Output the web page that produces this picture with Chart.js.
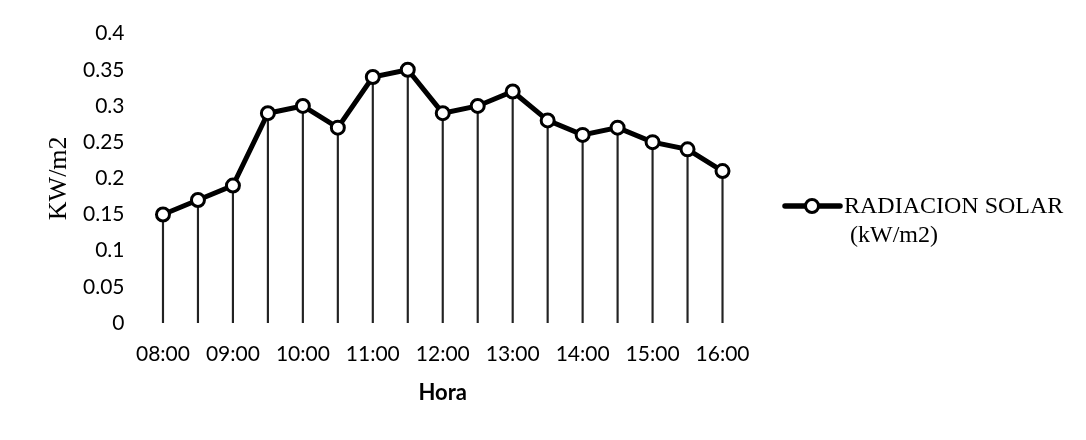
<!DOCTYPE html>
<html>
<head>
<meta charset="utf-8">
<script src="https://cdn.jsdelivr.net/npm/chart.js@4"></script>
<style>
  html, body { margin: 0; padding: 0; background: #fff; }
  #wrap { width: 1086px; height: 440px; position: relative; }
</style>
</head>
<body>
<div id="wrap"><canvas id="c" width="1086" height="440"></canvas></div>
<script>
const categories = ['08:00','08:30','09:00','09:30','10:00','10:30','11:00','11:30','12:00','12:30','13:00','13:30','14:00','14:30','15:00','15:30','16:00'];
const radiacion = [0.15,0.17,0.19,0.29,0.30,0.27,0.34,0.35,0.29,0.30,0.32,0.28,0.26,0.27,0.25,0.24,0.21];
const seriesName = ['RADIACION SOLAR', '(kW/m2)'];
const yTitle = 'KW/m2';
const xTitle = 'Hora';

const legendPlugin = {
  id: 'customLegend',
  afterDraw(chart) {
    const ctx = chart.ctx;
    const a = chart.chartArea;
    const x0 = a.right + 45, y0 = 206;
    ctx.save();
    ctx.strokeStyle = '#000';
    ctx.lineWidth = 5.5;
    ctx.lineCap = 'round';
    ctx.beginPath();
    ctx.moveTo(x0, y0);
    ctx.lineTo(x0 + 55, y0);
    ctx.stroke();
    ctx.beginPath();
    ctx.arc(x0 + 27, y0, 6.5, 0, Math.PI * 2);
    ctx.fillStyle = '#fff';
    ctx.fill();
    ctx.lineWidth = 3;
    ctx.stroke();
    ctx.fillStyle = '#000';
    ctx.font = '24px "Liberation Serif"';
    ctx.textBaseline = 'middle';
    ctx.textAlign = 'left';
    ctx.fillText(seriesName[0], x0 + 59, y0 + 1);
    ctx.fillText(seriesName[1], x0 + 65, y0 + 30);
    ctx.restore();
  }
};

new Chart(document.getElementById('c'), {
  data: {
    labels: categories,
    datasets: [
      {
        type: 'line',
        label: seriesName.join(' '),
        data: radiacion,
        borderColor: '#000',
        borderWidth: 5,
        pointRadius: 6.5,
        pointBorderWidth: 3,
        pointBackgroundColor: '#fff',
        pointBorderColor: '#000',
        tension: 0,
        order: 0
      },
      {
        type: 'bar',
        label: 'drop',
        data: radiacion,
        backgroundColor: '#222',
        barThickness: 1.5,
        order: 1
      }
    ]
  },
  options: {
    responsive: false,
    animation: false,
    layout: { padding: { left: 0, right: 346, top: 25, bottom: 0 } },
    plugins: { legend: { display: false }, tooltip: { enabled: false } },
    scales: {
      x: {
        type: 'category',
        offset: true,
        grid: { display: false, drawTicks: false },
        border: { display: false },
        ticks: {
          autoSkip: false,
          maxRotation: 0,
          padding: 19,
          color: '#000',
          font: { family: 'Lato', size: 21 },
          callback: (v, i) => categories[i].endsWith(':00') ? categories[i] : ''
        },
        title: {
          display: true,
          text: xTitle,
          color: '#000',
          font: { family: 'Lato', size: 22, weight: 'bold' },
          padding: 34
        },
        afterFit: (s) => { s.height = 117; }
      },
      y: {
        min: 0,
        max: 0.4,
        grid: { display: false, drawTicks: false },
        border: { display: false },
        ticks: {
          stepSize: 0.05,
          padding: 21,
          color: '#000',
          font: { family: 'Lato', size: 21 },
          callback: (v) => String(Math.round(v * 100) / 100)
        },
        title: {
          display: true,
          text: yTitle,
          color: '#000',
          font: { family: 'Liberation Serif', size: 26 },
          padding: { top: 44, bottom: 0 }
        },
        afterFit: (s) => { s.width = 145.5; }
      }
    }
  },
  plugins: [legendPlugin]
});
</script>
</body>
</html>
